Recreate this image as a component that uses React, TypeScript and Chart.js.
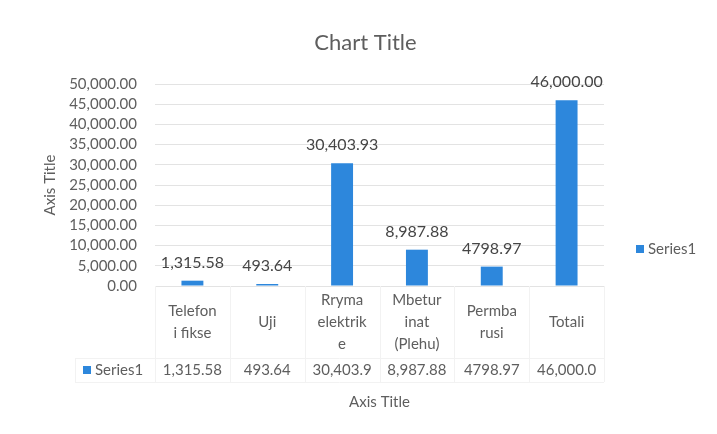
import React, { useEffect, useRef } from 'react';
import { Chart, registerables } from 'chart.js';

Chart.register(...registerables);

const FONT = 'Lato, "Open Sans", sans-serif';

const categories = ['Telefon i fikse', 'Uji', 'Rryma elektrike', 'Mbeturinat (Plehu)', 'Permbarusi', 'Totali'];
const categoryLines = [['Telefon', 'i fikse'], ['Uji'], ['Rryma', 'elektrik', 'e'], ['Mbetur', 'inat', '(Plehu)'], ['Permba', 'rusi'], ['Totali']];
const values = [1315.58, 493.64, 30403.93, 8987.88, 4798.97, 46000];
const dataLabels = ['1,315.58', '493.64', '30,403.93', '8,987.88', '4798.97', '46,000.00'];
const tableLabels = ['1,315.58', '493.64', '30,403.9', '8,987.88', '4798.97', '46,000.0'];
const seriesName = 'Series1';
const yMin = 0;
const yMax = 50000;
const yStep = 5000;

const BAR_COLOR = '#2d87dc';
const TEXT = '#5e5e5e';

const overlay = {
  id: 'overlay',
  beforeDraw(chart: any) {
    const ctx = chart.ctx;
    ctx.save();
    ctx.fillStyle = '#ffffff';
    ctx.fillRect(0, 0, chart.width, chart.height);
    ctx.restore();
  },
  afterDatasetsDraw(chart: any) {
    const ctx = chart.ctx;
    const area = chart.chartArea;
    const xs = chart.scales.x;
    const meta = chart.getDatasetMeta(0);
    ctx.save();
    // data labels
    ctx.font = `16px ${FONT}`;
    ctx.fillStyle = '#454545';
    ctx.textAlign = 'center';
    ctx.textBaseline = 'middle';
    meta.data.forEach((bar: any, i: number) => {
      ctx.fillText(dataLabels[i], bar.x, bar.y - 18);
    });

    // data table grid
    const n = categories.length;
    const colW = (area.right - area.left) / n;
    ctx.strokeStyle = '#f2f2f2';
    ctx.lineWidth = 1;
    const tableLeft = 75;
    const rowSplit = area.bottom + 72;
    const tableBottom = area.bottom + 96;
    ctx.beginPath();
    for (let i = 0; i <= n; i++) {
      const x = Math.round(area.left + i * colW) + 0.5;
      ctx.moveTo(x, area.bottom);
      ctx.lineTo(x, tableBottom);
    }
    ctx.moveTo(tableLeft + 0.5, rowSplit);
    ctx.lineTo(tableLeft + 0.5, tableBottom);
    ctx.moveTo(tableLeft, rowSplit + 0.5);
    ctx.lineTo(area.right, rowSplit + 0.5);
    ctx.moveTo(tableLeft, tableBottom + 0.5);
    ctx.lineTo(area.right, tableBottom + 0.5);
    ctx.stroke();

    // category labels
    ctx.font = `15px ${FONT}`;
    ctx.fillStyle = TEXT;
    const lh = 22;
    const cy = area.bottom + 36;
    categoryLines.forEach((lines, i) => {
      const cx = xs.getPixelForValue(i);
      const start = cy - ((lines.length - 1) * lh) / 2;
      lines.forEach((t, j) => ctx.fillText(t, cx, start + j * lh));
    });

    // series row
    const ry = area.bottom + 84;
    tableLabels.forEach((t, i) => {
      ctx.fillText(t, xs.getPixelForValue(i), ry);
    });
    ctx.fillStyle = BAR_COLOR;
    ctx.fillRect(83, ry - 4, 8, 8);
    ctx.fillStyle = TEXT;
    ctx.textAlign = 'left';
    ctx.fillText(seriesName, 95, ry);

    // legend on right
    const ly = 249;
    ctx.fillStyle = BAR_COLOR;
    ctx.fillRect(636, ly - 4, 8, 8);
    ctx.fillStyle = TEXT;
    ctx.fillText(seriesName, 648, ly);
    ctx.restore();
  },
};

export default function App() {
  const ref = useRef<HTMLCanvasElement | null>(null);
  useEffect(() => {
    if (!ref.current) return;
    const chart = new Chart(ref.current, {
      type: 'bar',
      data: {
        labels: categories,
        datasets: [
          {
            label: seriesName,
            data: values,
            backgroundColor: BAR_COLOR,
            categoryPercentage: 1,
            barPercentage: 0.293,
          },
        ],
      },
      options: {
        responsive: false,
        animation: false,
        layout: { padding: { left: 14, right: 0, top: 0, bottom: 0 } },
        plugins: {
          legend: { display: false },
          tooltip: { enabled: false },
          title: {
            display: true,
            text: 'Chart Title',
            color: TEXT,
            font: { family: FONT, size: 22, weight: 'normal' },
            padding: { top: 30, bottom: 27.6 },
          },
        },
        scales: {
          x: {
            grid: { display: false, drawTicks: false },
            border: { display: false },
            ticks: { display: false },
            title: {
              display: true,
              text: 'Axis Title',
              color: TEXT,
              font: { family: FONT, size: 15 },
              padding: { top: 0, bottom: 23 },
            },
            afterFit(s: any) {
              s.height = 434 - 286;
            },
          },
          y: {
            min: yMin,
            max: yMax,
            ticks: {
              stepSize: yStep,
              autoSkip: false,
              color: TEXT,
              font: { family: FONT, size: 15 },
              padding: 18,
              callback: (v: any) =>
                Number(v).toLocaleString('en-US', { minimumFractionDigits: 2, maximumFractionDigits: 2 }),
            },
            grid: { color: '#e3e3e3', drawTicks: false },
            border: { display: false },
            title: {
              display: true,
              text: 'Axis Title',
              color: TEXT,
              font: { family: FONT, size: 15 },
              padding: { top: 27, bottom: 0 },
            },
            afterFit(s: any) {
              s.width = 141;
            },
          },
          legendSpace: {
            type: 'linear',
            position: 'right',
            display: true,
            grid: { display: false, drawTicks: false },
            border: { display: false },
            ticks: { display: false },
            afterFit(s: any) {
              s.width = 113;
            },
          },
        },
      } as any,
      plugins: [overlay],
    });
    return () => chart.destroy();
  }, []);
  return (
    <div style={{ position: 'fixed', left: 0, top: 0, width: 717, height: 434, background: '#fff' }}>
      <canvas ref={ref} width={717} height={434} style={{ width: 717, height: 434, display: 'block' }} />
    </div>
  );
}
